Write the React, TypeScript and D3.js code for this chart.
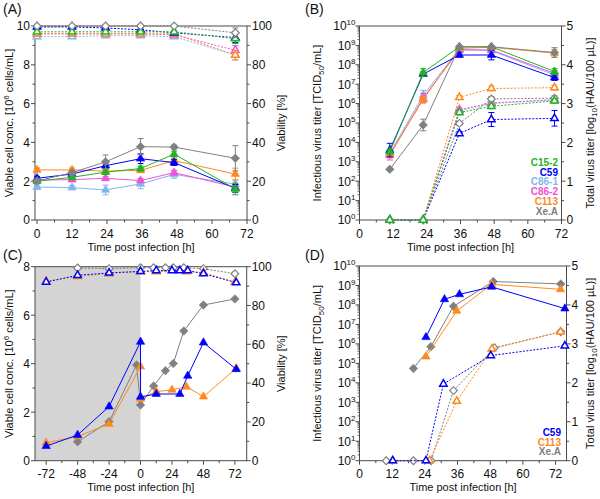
import React from 'react';
import * as d3 from 'd3';

const FONT = '"Liberation Sans", Arial, Helvetica, sans-serif';
const AX = '#4a4a4a';

const C_GREEN = '#1fb51f';
const C_BLUE = '#0000ff';
const C_LBLUE = '#84b6ee';
const C_PINK = '#f050dc';
const C_ORANGE = '#ff8a1c';
const C_GRAY = '#808080';

// ---------- Panel A ----------
const timeA = [0, 12, 23.5, 35.5, 47, 68];
const vcdA_C152 = [2.0, 2.2, 2.47, 2.65, 3.4, 1.6];
const vcdA_C59 = [2.15, 2.37, 2.8, 3.16, 2.96, 1.63];
const vcdA_C861 = [1.7, 1.67, 1.55, 1.86, 2.35, 1.85];
const vcdA_C862 = [2.06, 2.08, 2.15, 2.03, 2.44, 1.7];
const vcdA_C113 = [2.58, 2.58, 2.52, 2.56, 3.06, 2.37];
const vcdA_XeA = [2.01, 2.44, 3.0, 3.78, 3.76, 3.18];
const vcdErrA_C152 = [0.1, 0.1, 0.12, 0.12, 0.15, 0.3];
const vcdErrA_C59 = [0.1, 0.1, 0.15, 0.25, 0.15, 0.2];
const vcdErrA_C861 = [0.1, 0.1, 0.25, 0.25, 0.2, 0.2];
const vcdErrA_C862 = [0.1, 0.1, 0.1, 0.1, 0.12, 0.15];
const vcdErrA_C113 = [0.1, 0.1, 0.1, 0.1, 0.1, 0.3];
const vcdErrA_XeA = [0.1, 0.1, 0.35, 0.42, 0.1, 0.65];

const viaA_C152 = [97, 97, 97, 97, 97, 93.5];
const viaA_C59 = [99.5, 99.5, 99, 98, 96.5, 94];
const viaA_C861 = [94.5, 94.5, 95, 95, 94.5, 85];
const viaA_C862 = [96, 96, 96, 96, 95.5, 87.5];
const viaA_C113 = [96, 96, 96, 96, 96, 85];
const viaA_XeA = [100, 100, 100, 100, 100, 96.5];
const viaErrA = [0.5, 0.5, 0.5, 0.5, 0.8, 2.5];

// ---------- Panel B ----------
const timeB = [10.8, 22.7, 35.6, 47, 69.5];
const infB_C152 = [3.3e3, 4.0e7, 8.5e8, 8.5e8, 4.5e7];
const infB_C59 = [4.0e3, 3.3e7, 3.2e8, 3.2e8, 2.2e7];
const infB_C861 = [2.7e3, 2.7e6, 6.3e8, 5.4e8, 3.0e7];
const infB_C862 = [2.2e3, 1.9e6, 5.8e8, 5.8e8, 3.6e7];
const infB_C113 = [2.5e3, 1.6e6, 7.1e8, 8.0e8, 4.0e8];
const infB_XeA = [4.1e2, 7.9e4, 8.5e8, 8.5e8, 4.3e8];
const infErrB_C152 = [0.1, 0.2, 0.05, 0.05, 0.15];
const infErrB_C59 = [0.35, 0.1, 0.1, 0.25, 0.15];
const infErrB_C861 = [0.15, 0.25, 0.05, 0.05, 0.15];
const infErrB_C862 = [0.25, 0.25, 0.05, 0.05, 0.15];
const infErrB_C113 = [0.2, 0.15, 0.05, 0.05, 0.2];
const infErrB_XeA = [0.05, 0.3, 0.05, 0.05, 0.25];

const totB_C152 = [0, 0, 2.77, 2.93, 3.07];
const totB_C59 = [0, 0, 2.23, 2.59, 2.62];
const totB_C861 = [0, 0, 2.82, 3.0, 3.1];
const totB_C862 = [0, 0, 2.84, 3.02, 3.1];
const totB_C113 = [0, 0, 3.16, 3.39, 3.41];
const totB_XeA = [0, 0, 2.49, 3.12, 3.14];
const totErrB_C59 = [0, 0, 0.05, 0.18, 0.2];
const totErrB_other = [0, 0, 0.05, 0.06, 0.06];

// ---------- Panel C ----------
const timeC_C59 = [-72, -48, -24, 0, 0, 12, 30, 36, 48, 73];
const vcdC_C59 = [0.6, 1.06, 2.23, 4.9, 2.63, 2.75, 2.75, 3.5, 4.87, 3.77];
const timeC_C113 = [-72, -48, -24, 0, 0, 12, 24, 35, 48, 73];
const vcdC_C113 = [0.74, 1.0, 1.51, 3.88, 2.55, 2.85, 2.92, 3.05, 2.64, 3.81];
const timeC_XeA = [-48, -24, -3, 0, 10, 19, 25, 33, 48, 72];
const vcdC_XeA = [0.78, 1.61, 3.95, 2.3, 3.08, 3.71, 4.01, 5.35, 6.42, 6.67];

const timeCv_C59 = [-72, -48, -24, 0, 12, 24, 30, 36, 48, 73];
const viaC_C59 = [92.1, 95.6, 96.8, 97.6, 98, 98, 98, 98, 96.4, 91.8];
const timeCv_C113 = [-72, -48, -24, 0, 12, 35, 48, 72];
const viaC_C113 = [92.5, 95, 96.5, 97.5, 97.5, 97.5, 97, 92];
const timeCv_XeA = [-48, -24, 0, 10, 19, 25, 33, 48, 72];
const viaC_XeA = [99.3, 99, 99.5, 99.5, 99.5, 99.5, 99.5, 99, 96.4];

// ---------- Panel D ----------
const timeD_C59 = [24.4, 31.2, 36.7, 48.5, 75.4];
const infD_C59 = [2.2e6, 1.95e8, 3.5e8, 8.5e8, 6.5e7];
const timeD_C113 = [24.4, 35.7, 48.5, 73.8];
const infD_C113 = [2.2e5, 4.9e7, 1.15e9, 6.3e8];
const timeD_XeA = [19.8, 26.2, 34.5, 49.1, 73.9];
const infD_XeA = [5.5e4, 7.2e5, 8.5e7, 1.6e9, 1.2e9];

const timeDt_C59 = [12.2, 24.4, 30.8, 48.2, 75.4];
const totD_C59 = [0, 0, 1.97, 2.7, 2.95];
const timeDt_C113 = [12.2, 25.7, 35.7, 48.6, 73.8];
const totD_C113 = [0, 0, 1.53, 2.87, 3.31];
const timeDt_XeA = [9.8, 19.8, 26.3, 34.5, 49.5, 73.9];
const totD_XeA = [0, 0, 0, 1.8, 2.9, 3.31];

// ---------- ticks ----------
const ticksTime = [0, 12, 24, 36, 48, 60, 72];
const minorTime = [6, 18, 30, 42, 54, 66];
const ticksTimeC = [-72, -48, -24, 0, 24, 48, 72];
const minorTimeC = [-60, -36, -12, 12, 36, 60];
const ticksVcdA = [0, 2, 4, 6, 8, 10];
const minorVcdA = [1, 3, 5, 7, 9];
const ticksVcdC = [0, 2, 4, 6, 8];
const minorVcdC = [1, 3, 5, 7];
const ticksVia = [0, 20, 40, 60, 80, 100];
const minorVia = [10, 30, 50, 70, 90];
const ticksTot = [0, 1, 2, 3, 4, 5];
const minorTot = [0.5, 1.5, 2.5, 3.5, 4.5];
const logExps = [0, 1, 2, 3, 4, 5, 6, 7, 8, 9, 10];

const legendB = [
  { label: 'C15-2', color: C_GREEN },
  { label: 'C59', color: C_BLUE },
  { label: 'C86-1', color: C_LBLUE },
  { label: 'C86-2', color: C_PINK },
  { label: 'C113', color: C_ORANGE },
  { label: 'Xe.A', color: C_GRAY },
];
const legendD = [
  { label: 'C59', color: C_BLUE },
  { label: 'C113', color: C_ORANGE },
  { label: 'Xe.A', color: C_GRAY },
];

type Mark = 'tri' | 'dia';
interface Ser {
  xs: number[];
  ys: number[];
  err?: number[];
  color: string;
  mark: Mark;
  open: boolean;
  axis: 'L' | 'R';
}
interface AxisSpec {
  kind: 'lin' | 'log';
  domain: [number, number];
  ticks: number[];
  minor: number[];
}
interface PanelSpec {
  tag: string;
  tagX: number;
  tagY: number;
  px0: number;
  px1: number;
  py0: number;
  py1: number;
  xDomain: [number, number];
  xTicks: number[];
  xMinor: number[];
  left: AxisSpec;
  right: AxisSpec;
  leftLabel: React.ReactNode;
  leftLabelX: number;
  rightLabel: React.ReactNode;
  rightLabelX: number;
  series: Ser[];
  shadeTo?: number;
  legend?: { label: string; color: string }[];
  legendX?: number;
  legendY?: number;
}

const triFilled = d3.symbol().type(d3.symbolTriangle).size(30)() as string;
const triOpen = d3.symbol().type(d3.symbolTriangle).size(24)() as string;
const diaFilled = d3.symbol().type(d3.symbolSquare).size(36)() as string;
const diaOpen = d3.symbol().type(d3.symbolSquare).size(30)() as string;

function makeY(a: AxisSpec, py0: number, py1: number) {
  if (a.kind === 'log') return d3.scaleLog().domain(a.domain).range([py1, py0]);
  return d3.scaleLinear().domain(a.domain).range([py1, py0]);
}

function Panel({ p }: { p: PanelSpec }) {
  const xS = d3.scaleLinear().domain(p.xDomain).range([p.px0, p.px1]);
  const yL = makeY(p.left, p.py0, p.py1);
  const yR = makeY(p.right, p.py0, p.py1);
  const lineGen = d3.line<[number, number]>();
  const midY = (p.py0 + p.py1) / 2;

  const logMinor: number[] = [];
  if (p.left.kind === 'log') {
    for (let e = 0; e < 10; e++) for (let k = 2; k <= 9; k++) logMinor.push(k * Math.pow(10, e));
  }

  return (
    <g>
      {p.shadeTo !== undefined && (
        <rect x={p.px0} y={p.py0} width={xS(p.shadeTo) - p.px0} height={p.py1 - p.py0} fill="#d4d4d4" />
      )}
      {/* frame */}
      <rect x={p.px0} y={p.py0} width={p.px1 - p.px0} height={p.py1 - p.py0} fill="none" stroke={AX} strokeWidth={1} />
      {/* x ticks */}
      {p.xTicks.map((t) => (
        <g key={'xt' + t}>
          <line x1={xS(t)} x2={xS(t)} y1={p.py1} y2={p.py1 + 4} stroke={AX} />
          <text x={xS(t)} y={p.py1 + 17.5} textAnchor="middle" fontSize={12} fill="#111">
            {t}
          </text>
        </g>
      ))}
      {p.xMinor.map((t) => (
        <line key={'xm' + t} x1={xS(t)} x2={xS(t)} y1={p.py1} y2={p.py1 + 2.5} stroke={AX} />
      ))}
      <text x={(p.px0 + p.px1) / 2} y={p.py1 + 30.5} textAnchor="middle" fontSize={11} fill="#111">
        Time post infection [h]
      </text>
      {/* left axis */}
      {p.left.kind === 'lin' &&
        p.left.ticks.map((t) => (
          <g key={'yl' + t}>
            <line x1={p.px0 - 4} x2={p.px0} y1={yL(t)} y2={yL(t)} stroke={AX} />
            <text x={p.px0 - 5} y={yL(t) + 4.3} textAnchor="end" fontSize={12} fill="#111">
              {t}
            </text>
          </g>
        ))}
      {p.left.kind === 'lin' &&
        p.left.minor.map((t) => (
          <line key={'ylm' + t} x1={p.px0 - 2.5} x2={p.px0} y1={yL(t)} y2={yL(t)} stroke={AX} />
        ))}
      {p.left.kind === 'log' &&
        p.left.ticks.map((e) => (
          <g key={'yll' + e}>
            <line x1={p.px0 - 4} x2={p.px0} y1={yL(Math.pow(10, e))} y2={yL(Math.pow(10, e))} stroke={AX} />
            <text x={p.px0 - 4} y={yL(Math.pow(10, e)) + 4.3} textAnchor="end" fontSize={12} fill="#111">
              10
              <tspan dy={-5} fontSize={8}>
                {e}
              </tspan>
            </text>
          </g>
        ))}
      {p.left.kind === 'log' &&
        logMinor.map((v, i) => (
          <line key={'ylmm' + i} x1={p.px0 - 2} x2={p.px0} y1={yL(v)} y2={yL(v)} stroke={AX} strokeWidth={0.8} />
        ))}
      {/* right axis */}
      {p.right.ticks.map((t) => (
        <g key={'yr' + t}>
          <line x1={p.px1} x2={p.px1 + 4} y1={yR(t)} y2={yR(t)} stroke={AX} />
          <text x={p.px1 + 5} y={yR(t) + 4.3} textAnchor="start" fontSize={12} fill="#111">
            {t}
          </text>
        </g>
      ))}
      {p.right.minor.map((t) => (
        <line key={'yrm' + t} x1={p.px1} x2={p.px1 + 2.5} y1={yR(t)} y2={yR(t)} stroke={AX} />
      ))}
      {/* axis labels */}
      <text transform={`translate(${p.leftLabelX},${midY}) rotate(-90)`} textAnchor="middle" fontSize={11} fill="#111">
        {p.leftLabel}
      </text>
      <text transform={`translate(${p.rightLabelX},${midY}) rotate(-90)`} textAnchor="middle" fontSize={11} fill="#111">
        {p.rightLabel}
      </text>
      <text x={p.tagX} y={p.tagY} fontSize={14} fill="#111">
        {p.tag}
      </text>
      {/* series */}
      {p.series.map((s, si) => {
        const yS: any = s.axis === 'L' ? yL : yR;
        const isLog = (s.axis === 'L' ? p.left.kind : p.right.kind) === 'log';
        const pts: [number, number][] = s.xs.map((x, i) => [xS(x), yS(s.ys[i])]);
        return (
          <g key={'s' + si}>
            <path
              d={lineGen(pts) || ''}
              fill="none"
              stroke={s.color}
              strokeWidth={1}
              strokeDasharray={s.open ? '2,1.5' : undefined}
            />
            {s.err &&
              s.err.map((e, i) => {
                if (!e) return null;
                const v = s.ys[i];
                const hi = isLog ? yS(v * Math.pow(10, e)) : yS(v + e);
                const lo = isLog ? yS(v / Math.pow(10, e)) : yS(v - e);
                const cx = pts[i][0];
                return (
                  <g key={'e' + i} stroke={s.color} strokeWidth={1}>
                    <line x1={cx} x2={cx} y1={hi} y2={lo} />
                    <line x1={cx - 3} x2={cx + 3} y1={hi} y2={hi} />
                    <line x1={cx - 3} x2={cx + 3} y1={lo} y2={lo} />
                  </g>
                );
              })}
            {pts.map(([cx, cy], i) => {
              if (s.mark === 'tri') {
                return (
                  <path
                    key={'m' + i}
                    d={s.open ? triOpen : triFilled}
                    transform={`translate(${cx},${cy})`}
                    fill={s.open ? '#fff' : s.color}
                    stroke={s.color}
                    strokeWidth={s.open ? 1.5 : 0.6}
                  />
                );
              }
              return (
                <path
                  key={'m' + i}
                  d={s.open ? diaOpen : diaFilled}
                  transform={`translate(${cx},${cy}) rotate(45)`}
                  fill={s.open ? '#fff' : s.color}
                  stroke={s.color}
                  strokeWidth={s.open ? 1.2 : 0.6}
                />
              );
            })}
          </g>
        );
      })}
      {p.legend &&
        p.legend.map((l, i) => (
          <text
            key={'lg' + i}
            x={p.legendX}
            y={(p.legendY as number) + i * 9.7}
            textAnchor="end"
            fontSize={10}
            fontWeight="bold"
            fill={l.color}
          >
            {l.label}
          </text>
        ))}
    </g>
  );
}

function sixSeriesA(): Ser[] {
  const vcd = [
    { y: vcdA_C861, e: vcdErrA_C861, c: C_LBLUE, m: 'tri' as Mark },
    { y: vcdA_C862, e: vcdErrA_C862, c: C_PINK, m: 'tri' as Mark },
    { y: vcdA_C113, e: vcdErrA_C113, c: C_ORANGE, m: 'tri' as Mark },
    { y: vcdA_C59, e: vcdErrA_C59, c: C_BLUE, m: 'tri' as Mark },
    { y: vcdA_C152, e: vcdErrA_C152, c: C_GREEN, m: 'tri' as Mark },
    { y: vcdA_XeA, e: vcdErrA_XeA, c: C_GRAY, m: 'dia' as Mark },
  ];
  const via = [
    { y: viaA_C861, c: C_LBLUE, m: 'tri' as Mark },
    { y: viaA_C862, c: C_PINK, m: 'tri' as Mark },
    { y: viaA_C113, c: C_ORANGE, m: 'tri' as Mark },
    { y: viaA_C59, c: C_BLUE, m: 'tri' as Mark },
    { y: viaA_C152, c: C_GREEN, m: 'tri' as Mark },
    { y: viaA_XeA, c: C_GRAY, m: 'dia' as Mark },
  ];
  return [
    ...via.map((d) => ({ xs: timeA, ys: d.y, err: viaErrA, color: d.c, mark: d.m, open: true, axis: 'R' as const })),
    ...vcd.map((d) => ({ xs: timeA, ys: d.y, err: d.e, color: d.c, mark: d.m, open: false, axis: 'L' as const })),
  ];
}

function sixSeriesB(): Ser[] {
  const inf = [
    { y: infB_C861, e: infErrB_C861, c: C_LBLUE, m: 'tri' as Mark },
    { y: infB_C862, e: infErrB_C862, c: C_PINK, m: 'tri' as Mark },
    { y: infB_C113, e: infErrB_C113, c: C_ORANGE, m: 'tri' as Mark },
    { y: infB_C59, e: infErrB_C59, c: C_BLUE, m: 'tri' as Mark },
    { y: infB_C152, e: infErrB_C152, c: C_GREEN, m: 'tri' as Mark },
    { y: infB_XeA, e: infErrB_XeA, c: C_GRAY, m: 'dia' as Mark },
  ];
  const tot = [
    { y: totB_C861, e: totErrB_other, c: C_LBLUE, m: 'tri' as Mark },
    { y: totB_C862, e: totErrB_other, c: C_PINK, m: 'tri' as Mark },
    { y: totB_C113, e: totErrB_other, c: C_ORANGE, m: 'tri' as Mark },
    { y: totB_C59, e: totErrB_C59, c: C_BLUE, m: 'tri' as Mark },
    { y: totB_XeA, e: totErrB_other, c: C_GRAY, m: 'dia' as Mark },
    { y: totB_C152, e: totErrB_other, c: C_GREEN, m: 'tri' as Mark },
  ];
  return [
    ...tot.map((d) => ({ xs: timeB, ys: d.y, err: d.e, color: d.c, mark: d.m, open: true, axis: 'R' as const })),
    ...inf.map((d) => ({ xs: timeB, ys: d.y, err: d.e, color: d.c, mark: d.m, open: false, axis: 'L' as const })),
  ];
}

const seriesC: Ser[] = [
  { xs: timeCv_XeA, ys: viaC_XeA, color: C_GRAY, mark: 'dia', open: true, axis: 'R' },
  { xs: timeCv_C113, ys: viaC_C113, color: C_ORANGE, mark: 'tri', open: true, axis: 'R' },
  { xs: timeCv_C59, ys: viaC_C59, color: C_BLUE, mark: 'tri', open: true, axis: 'R' },
  { xs: timeC_XeA, ys: vcdC_XeA, color: C_GRAY, mark: 'dia', open: false, axis: 'L' },
  { xs: timeC_C113, ys: vcdC_C113, color: C_ORANGE, mark: 'tri', open: false, axis: 'L' },
  { xs: timeC_C59, ys: vcdC_C59, color: C_BLUE, mark: 'tri', open: false, axis: 'L' },
];

const seriesD: Ser[] = [
  { xs: timeDt_XeA, ys: totD_XeA, color: C_GRAY, mark: 'dia', open: true, axis: 'R' },
  { xs: timeDt_C113, ys: totD_C113, color: C_ORANGE, mark: 'tri', open: true, axis: 'R' },
  { xs: timeDt_C59, ys: totD_C59, color: C_BLUE, mark: 'tri', open: true, axis: 'R' },
  { xs: timeD_XeA, ys: infD_XeA, color: C_GRAY, mark: 'dia', open: false, axis: 'L' },
  { xs: timeD_C113, ys: infD_C113, color: C_ORANGE, mark: 'tri', open: false, axis: 'L' },
  { xs: timeD_C59, ys: infD_C59, color: C_BLUE, mark: 'tri', open: false, axis: 'L' },
];

const vcdLabel = (
  <>
    Viable cell conc. [10
    <tspan dy={-4} fontSize={8}>
      6
    </tspan>
    <tspan dy={4}> cells/mL]</tspan>
  </>
);
const infLabel = (
  <>
    Infectious virus titer [TCID
    <tspan dy={3} fontSize={8}>
      50
    </tspan>
    <tspan dy={-3}>/mL]</tspan>
  </>
);
const totLabel = (
  <>
    Total virus titer [log
    <tspan dy={3} fontSize={8}>
      10
    </tspan>
    <tspan dy={-3}>(HAU/100 µL)]</tspan>
  </>
);

const panels: PanelSpec[] = [
  {
    tag: '(A)', tagX: 3, tagY: 14,
    px0: 35, px1: 247, py0: 26, py1: 220,
    xDomain: [-0.7, 72], xTicks: ticksTime, xMinor: minorTime,
    left: { kind: 'lin', domain: [0, 10], ticks: ticksVcdA, minor: minorVcdA },
    right: { kind: 'lin', domain: [0, 100], ticks: ticksVia, minor: minorVia },
    leftLabel: vcdLabel, leftLabelX: 13, rightLabel: 'Viability [%]', rightLabelX: 285,
    series: sixSeriesA(),
  },
  {
    tag: '(B)', tagX: 305, tagY: 14,
    px0: 359.5, px1: 561.5, py0: 26, py1: 220,
    xDomain: [0, 72], xTicks: ticksTime, xMinor: minorTime,
    left: { kind: 'log', domain: [1, 1e10], ticks: logExps, minor: [] },
    right: { kind: 'lin', domain: [0, 5], ticks: ticksTot, minor: minorTot },
    leftLabel: infLabel, leftLabelX: 321, rightLabel: totLabel, rightLabelX: 594,
    series: sixSeriesB(),
    legend: legendB, legendX: 558, legendY: 166,
  },
  {
    tag: '(C)', tagX: 3, tagY: 260,
    px0: 35, px1: 246.7, py0: 266.7, py1: 460.7,
    xDomain: [-80.5, 81], xTicks: ticksTimeC, xMinor: minorTimeC,
    left: { kind: 'lin', domain: [0, 8], ticks: ticksVcdC, minor: minorVcdC },
    right: { kind: 'lin', domain: [0, 100], ticks: ticksVia, minor: minorVia },
    leftLabel: vcdLabel, leftLabelX: 13, rightLabel: 'Viability [%]', rightLabelX: 285,
    series: seriesC, shadeTo: 0,
  },
  {
    tag: '(D)', tagX: 305, tagY: 260,
    px0: 359.5, px1: 566.5, py0: 266, py1: 460.7,
    xDomain: [0, 76], xTicks: ticksTime, xMinor: minorTime,
    left: { kind: 'log', domain: [1, 1e10], ticks: logExps, minor: [] },
    right: { kind: 'lin', domain: [0, 5], ticks: ticksTot, minor: minorTot },
    leftLabel: infLabel, leftLabelX: 321, rightLabel: totLabel, rightLabelX: 594,
    series: seriesD,
    legend: legendD, legendX: 561, legendY: 436,
  },
];

export default function App() {
  return (
    <svg
      width={600}
      height={499}
      viewBox="0 0 600 499"
      style={{ position: 'absolute', left: 0, top: 0, fontFamily: FONT, background: '#fff' }}
    >
      <rect width={600} height={499} fill="#fff" />
      {panels.map((p) => (
        <Panel key={p.tag} p={p} />
      ))}
    </svg>
  );
}
